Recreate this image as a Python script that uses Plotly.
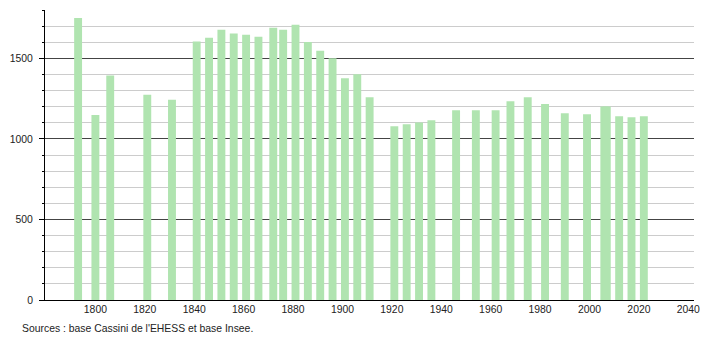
import plotly.graph_objects as go

years = [1793, 1800, 1806, 1821, 1831, 1841, 1846, 1851, 1856, 1861, 1866, 1872,
         1876, 1881, 1886, 1891, 1896, 1901, 1906, 1911, 1921, 1926, 1931, 1936,
         1946, 1954, 1962, 1968, 1975, 1982, 1990, 1999, 2006, 2007, 2012, 2017, 2022]
population = [1751, 1149, 1393, 1274, 1243, 1605, 1628, 1678, 1654, 1647, 1634, 1690,
              1678, 1709, 1601, 1547, 1501, 1376, 1401, 1259, 1078, 1091, 1101, 1116,
              1178, 1178, 1178, 1234, 1259, 1216, 1159, 1153, 1201, 1201, 1140, 1134, 1140]
x_ticks = [1800, 1820, 1840, 1860, 1880, 1900, 1920, 1940, 1960, 1980, 2000, 2020, 2040]
y_ticks = [0, 500, 1000, 1500]
source_text = "Sources : base Cassini de l'EHESS et base Insee."

fig = go.Figure()
fig.add_trace(go.Bar(
    x=years, y=population, width=3.2,
    marker=dict(color="#b0e4b0", line=dict(width=0)),
    hoverinfo="x+y",
))

font = dict(family="Liberation Sans, Arial, sans-serif", size=10.4, color="#222")

fig.update_layout(
    width=710, height=340,
    margin=dict(l=44, r=10, t=10, b=40),
    plot_bgcolor="white", paper_bgcolor="white",
    showlegend=False,
    font=font,
    xaxis=dict(
        range=[1779.6, 2042.3],
        tickvals=x_ticks, ticktext=[str(v) for v in x_ticks],
        showgrid=False, zeroline=False,
        showline=True, linecolor="black", linewidth=1,
        ticks="", tickfont=font,
    ),
    yaxis=dict(
        range=[0, 1800],
        tickvals=y_ticks, ticktext=[str(v) for v in y_ticks],
        showgrid=True, gridcolor="#444", gridwidth=1,
        zeroline=False,
        showline=True, linecolor="black", linewidth=1,
        ticks="outside", ticklen=5, tickcolor="black",
        ticklabelstandoff=4,
        tickfont=font,
        minor=dict(dtick=100, showgrid=True, gridcolor="#cccccc", gridwidth=1,
                   ticks="outside", ticklen=2, tickcolor="black"),
    ),
    annotations=[dict(
        text=source_text, xref="paper", yref="paper",
        x=-0.039, y=-0.074, xanchor="left", yanchor="top",
        showarrow=False, font=font,
    )],
)

fig.write_html("out.html")
